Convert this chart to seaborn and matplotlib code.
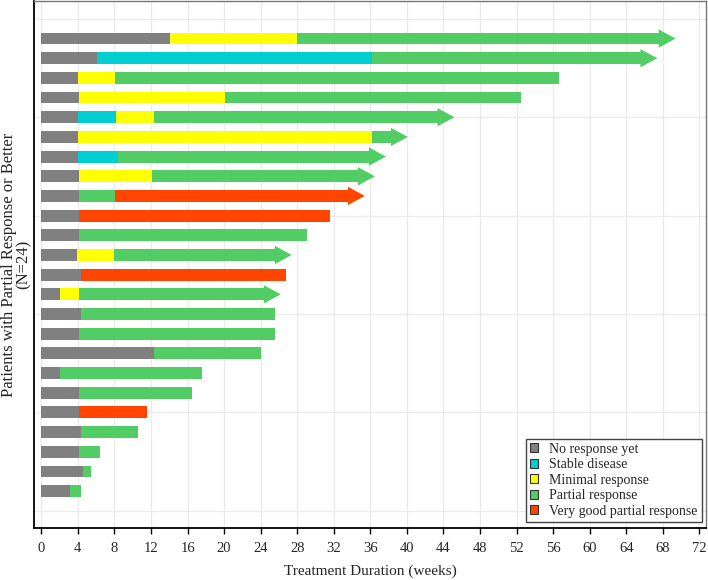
import matplotlib
matplotlib.use("Agg")
import matplotlib.pyplot as plt
from matplotlib.patches import Patch
import seaborn as sns
import pandas as pd

# ---------------- data ----------------
states = ["No response yet", "Stable disease", "Minimal response",
          "Partial response", "Very good partial response"]
state_colors = ["#808080", "#00CED1", "#FFFF00", "#52CC64", "#FF4500"]

patients = [f"Patient {i}" for i in range(1, 25)]

# state codes: 0=NR, 1=SD, 2=MR, 3=PR, 4=VGPR
segment_states = [
    [0, 2, 3], [0, 1, 3], [0, 2, 3], [0, 2, 3], [0, 1, 2, 3], [0, 2, 3],
    [0, 1, 3], [0, 2, 3], [0, 3, 4], [0, 4], [0, 3], [0, 2, 3],
    [0, 4], [0, 2, 3], [0, 3], [0, 3], [0, 3], [0, 3],
    [0, 3], [0, 4], [0, 3], [0, 3], [0, 3], [0, 3],
]
# end of each segment (weeks)
segment_ends = [
    [14.1, 28.0, 67.6], [6.1, 36.2, 65.6], [4.0, 8.1, 56.6], [4.1, 20.1, 52.5],
    [4.0, 8.2, 12.3, 43.4], [4.0, 36.2, 38.3], [4.0, 8.4, 35.9], [4.1, 12.1, 34.7],
    [4.1, 8.1, 33.6], [4.1, 31.6], [4.1, 29.1], [3.9, 8.0, 25.6],
    [4.3, 26.8], [2.1, 4.1, 24.4], [4.3, 25.6], [4.1, 25.6], [12.3, 24.0], [2.1, 17.6],
    [4.1, 16.45], [4.1, 11.55], [4.3, 10.6], [4.1, 6.4], [4.55, 5.4], [3.1, 4.3],
]
ongoing = [True, True, False, False, True, True, True, True, True, False, False, True,
           False, True, False, False, False, False, False, False, False, False, False, False]

x_ticks = list(range(0, 73, 4))

# ---------------- build table ----------------
rows = []
for p, sts, ends in zip(patients, segment_states, segment_ends):
    for k, (s, e) in enumerate(zip(sts, ends)):
        rows.append({"patient": p, "layer": k, "state": states[s], "end": e})
df = pd.DataFrame(rows)
palette = dict(zip(states, state_colors))

# ---------------- style ----------------
sns.set_theme(style="whitegrid")
plt.rcParams["font.family"] = ["Liberation Serif", "DejaVu Serif"]

fig = plt.figure(figsize=(7.08, 5.80), dpi=100)
ax = fig.add_axes([0.0484, 0.0902, 0.9488, 0.9078])

bar_h = 0.6
for k in sorted(df["layer"].unique(), reverse=True):
    sub = df[df["layer"] == k]
    sns.barplot(data=sub, x="end", y="patient", hue="state", order=patients,
                hue_order=states, palette=palette, dodge=False, orient="h",
                width=bar_h, saturation=1, errorbar=None, legend=False,
                linewidth=0, ax=ax)

# arrow heads for ongoing treatment
head_len = 1.8
head_w = 0.93
for i, (sts, ends, on) in enumerate(zip(segment_states, segment_ends, ongoing)):
    if on:
        e = ends[-1]
        c = state_colors[sts[-1]]
        ax.fill([e - 0.05, e - 0.05, e + head_len], [i - head_w / 2, i + head_w / 2, i],
                color=c, linewidth=0, zorder=3)

# axes
ax.set_xlim(-0.77, 72.73)
ax.set_ylim(24.86, -1.9)
ax.set_xticks(x_ticks)
ax.set_xticklabels([str(t) for t in x_ticks], fontsize=10.5)
ax.set_yticks([24, 19, 14, 9, 4, -1])
ax.set_yticklabels([])
ax.tick_params(axis="y", length=0)
ax.tick_params(axis="x", length=4, width=1, color="black", direction="out", bottom=True, pad=6)
ax.grid(True, axis="both", color="#EBEBEB", linewidth=1)
ax.set_axisbelow(True)

for side in ["left", "bottom"]:
    ax.spines[side].set_color("black")
    ax.spines[side].set_linewidth(1.3)
for side in ["top", "right"]:
    ax.spines[side].set_color("#777777")
    ax.spines[side].set_linewidth(1.0)

ax.set_xlabel("Treatment Duration (weeks)", fontsize=11, labelpad=7)
ax.set_ylabel("Patients with Partial Response or Better\n(N=24)", fontsize=12,
              linespacing=0.85)
ax.yaxis.set_label_coords(-0.004, 0.5)

handles = [Patch(facecolor=c, edgecolor="#333333", linewidth=0.8, label=s)
           for s, c in zip(states, state_colors)]
leg = ax.legend(handles=handles, loc="lower right", bbox_to_anchor=(0.994, 0.011),
                borderaxespad=0, fontsize=10, frameon=True, fancybox=False,
                edgecolor="#444444", framealpha=1, handlelength=0.6, handleheight=0.6,
                handletextpad=0.8, labelspacing=0.18, borderpad=0.3)
leg.get_frame().set_linewidth(1.0)

fig.savefig("out.png", dpi=100)
